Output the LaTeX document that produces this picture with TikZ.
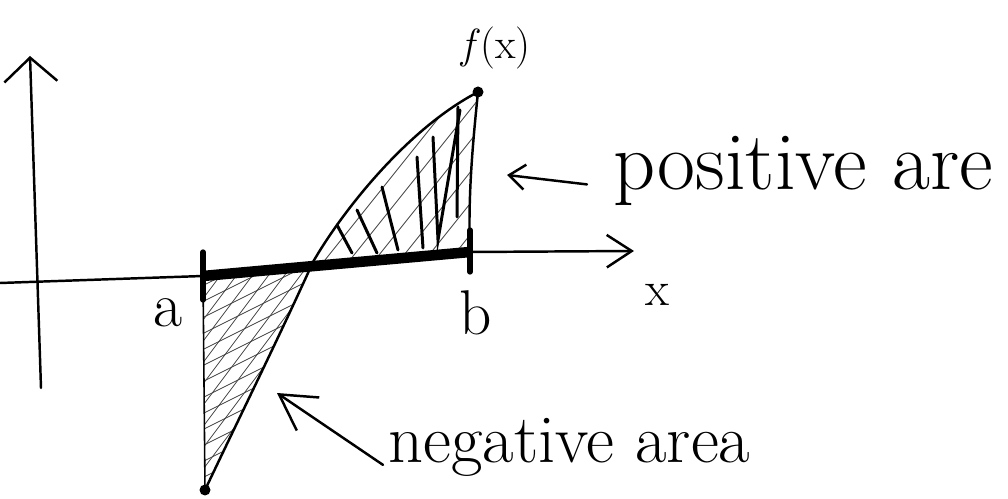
\documentclass[tikz,border=0pt]{standalone}
\usepackage{fontspec}
\usetikzlibrary{arrows.meta,calc}

\begin{document}
\begin{tikzpicture}[
  x=0.02cm, y=-0.02cm,
  pen/.style={line width=1.4pt,line cap=round,line join=round},
  thinhatch/.style={line width=0.45pt,black!75},
  hatchstroke/.style={line width=1.7pt,line cap=round},
  dot/.style={circle,fill,inner sep=0pt,minimum size=0.22cm},
  lbl/.style={inner sep=0pt,font=\fontsize{36}{40}\selectfont}
]
\useasboundingbox (0,0) rectangle (1008,499);

% points of the graph
\coordinate (yBot) at (41,388);
\coordinate (yTop) at (30,56);
\coordinate (xl)   at (0,283);
\coordinate (xa)   at (203,276);
\coordinate (xb)   at (470,252);
\coordinate (xTip) at (634,251);
\coordinate (lo)   at (205,490);
\coordinate (cross) at (313,262);
\coordinate (hi)   at (478,92);

% hatching, negative part
\begin{scope}
  \clip (xa) -- (cross) .. controls (280,335) and (243,410) .. (lo) -- cycle;
  \foreach \s in {20,36,...,330}
    \draw[thinhatch] (\s,500) -- ++(180,-240);
  \foreach \s in {280,296,...,560}
    \draw[thinhatch] (150,\s) -- ++(200,-100);
\end{scope}

% hatching, positive part
\begin{scope}
  \clip (cross) .. controls (340,215) and (405,130) .. (hi)
        .. controls (472,150) and (468,200) .. (xb) -- cycle;
  \foreach \s in {300,325,...,520}
    \draw[thinhatch] (\s,260) -- ++(160,-200);
\end{scope}
\foreach \x/\y/\u/\v in {337/225/352/253, 357/210/377/253, 382/187/398/250,
                         417/157/423/248, 458/107/457/217}
  \draw[hatchstroke] (\x,\y) -- (\u,\v);
\draw[hatchstroke] (433,137) -- (438,240) -- (460,110);

% axes
\draw[pen,-{Straight Barb[length=0.48cm,width=1.06cm]}] (yBot) -- (yTop);
\draw[pen,-{Straight Barb[length=0.5cm,width=0.65cm]}] (xl) -- (xa) -- (xb) -- (xTip);
\draw[line width=6pt] (xa) -- (xb);
\draw[line width=3pt,line cap=round] ($(xa)+(0,-24)$) -- ($(xa)+(0,24)$);
\draw[line width=3pt,line cap=round] ($(xb)+(0,-22)$) -- ($(xb)+(0,20)$);

% the function
\draw[pen] (lo) .. controls (243,410) and (280,335) .. (cross)
               .. controls (340,215) and (405,130) .. (hi);
\draw[pen] (hi) .. controls (472,150) and (468,200) .. (xb);
\draw[pen,line width=0.9pt] (xa) -- (lo);
\node[dot] (pLo) at (lo) {};
\node[dot] (pHi) at (hi) {};

% labels
\node[lbl] (la) at (168,313) {a};
\node[lbl] (lb) at (476,313) {b};
\node[lbl,font=\fontsize{28}{32}\selectfont] (lx) at (657,295) {x};
\node[lbl,font=\fontsize{24}{28}\selectfont] (lf) at (496,48) {\textit{f}(x)};
\node[lbl,font=\fontsize{47}{52}\selectfont,anchor=base west] (posLbl) at (613,190) {positive are};
\node[lbl,font=\fontsize{39}{44}\selectfont,anchor=base west] (negLbl) at (388,463) {negative area};

% pointers
\coordinate (posTip) at (507,175);
\coordinate (negTip) at (277,393);
\draw[pen,-{Straight Barb[length=0.32cm,width=0.5cm]}] ($(posLbl.west)+(-26,13)$) -- (posTip);
\draw[pen,-{Straight Barb[length=0.7cm,width=0.8cm]}] ($(negLbl.west)+(-5,17)$) -- (negTip);
\end{tikzpicture}
\end{document}
